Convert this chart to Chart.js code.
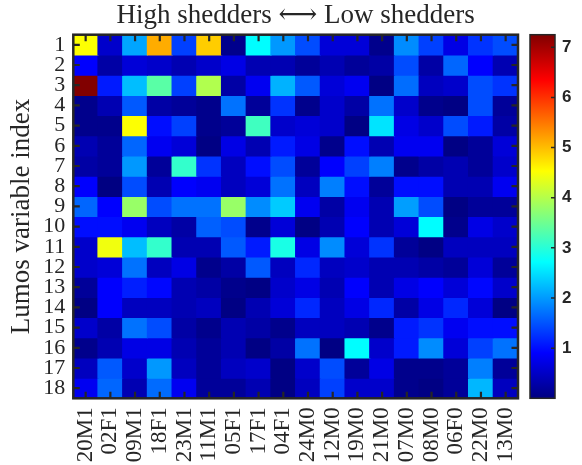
<!DOCTYPE html>
<html>
<head>
<meta charset="utf-8">
<script src="https://cdn.jsdelivr.net/npm/chart.js@4.4.1/dist/chart.umd.min.js"></script>
<style>
  html, body { margin: 0; padding: 0; background: #fff; }
  #wrap { position: relative; width: 582px; height: 465px; }
  #heat { position: absolute; left: 0; top: 0; }
  #cbar { position: absolute; left: 520px; top: 0; }
</style>
</head>
<body>
<div id="wrap">
  <canvas id="heat" width="582" height="465"></canvas>
  <canvas id="cbar" width="62" height="465"></canvas>
</div>
<script>
// Subjects, ordered from high to low shedders
const subjects = ['20M1','02F1','09M1','18F1','23M1','11M1','05F1','17F1','04F1',
                  '24M0','12M0','19M0','21M0','07M0','08M0','06F0','22M0','13M0'];

// Lumos variable indices (rows)
const variableIndex = [1,2,3,4,5,6,7,8,9,10,11,12,13,14,15,16,17,18];

// Values per variable index, one entry per subject
const row1  = [4.52,0.54,2.08,5.12,1.36,4.89,0.09,2.71,1.99,1.45,0.63,0.63,0.09,1.90,1.36,0.72,1.27,1.45];
const row2  = [0.90,0.27,0.63,0.54,0.36,0.54,0.72,0.36,0.36,0.18,0.36,0.18,0.27,1.45,0.27,1.63,0.90,0.36];
const row3  = [7.24,1.09,2.26,3.35,1.36,3.98,0.27,0.81,2.17,1.54,0.63,0.81,0.03,1.68,0.45,0.54,1.45,1.27];
const row4  = [0.09,0.36,1.54,0.27,0.18,0.09,1.72,0.18,1.27,0.09,0.54,0.27,1.72,0.54,0.09,0.03,1.45,0.18];
const row5  = [0.09,0.09,4.52,1.00,1.36,0.09,0.18,3.17,0.54,0.63,0.54,0.03,2.53,0.72,0.54,1.45,1.09,0.27];
const row6  = [0.36,0.18,1.63,0.81,0.63,0.03,0.72,0.36,1.09,0.72,0.09,1.00,0.36,0.81,0.81,0.03,0.18,0.63];
const row7  = [0.27,0.18,1.99,0.18,3.08,1.27,0.45,1.00,1.45,0.18,0.90,1.36,1.81,0.09,0.27,0.36,0.18,0.54];
const row8  = [0.90,0.02,1.45,0.36,0.90,0.81,0.45,0.63,1.72,0.45,1.81,1.00,0.18,1.00,1.00,0.36,0.36,0.81];
const row9  = [1.63,0.90,3.80,1.45,1.72,1.72,3.80,1.90,2.35,0.81,0.27,0.81,0.36,2.03,1.45,0.03,0.18,0.18];
const row10 = [1.00,1.00,0.81,0.45,0.27,1.59,1.45,0.09,0.63,0.03,0.36,0.90,0.36,0.63,2.71,0.09,0.72,0.54];
const row11 = [0.54,4.43,2.26,3.08,0.36,0.36,1.54,1.09,2.90,0.72,1.90,0.63,1.27,0.18,0.03,0.45,0.45,0.45];
const row12 = [0.54,0.63,1.72,0.45,0.72,0.09,0.27,1.54,0.45,1.18,0.45,0.54,0.36,0.36,0.27,0.18,0.63,0.18];
const row13 = [0.18,0.90,1.12,0.95,0.36,0.27,0.09,0.03,0.54,0.72,0.36,0.90,0.36,0.72,0.90,0.63,0.95,0.54];
const row14 = [0.03,0.90,0.45,0.45,0.36,0.45,0.03,0.36,0.63,1.18,0.45,0.72,1.18,0.27,0.72,1.18,0.63,0.03];
const row15 = [0.54,0.27,1.72,1.45,0.27,0.09,0.36,0.27,0.09,0.45,0.45,0.36,0.09,1.09,1.27,0.81,1.00,1.00];
const row16 = [0.09,0.36,0.72,0.72,0.36,0.18,0.36,0.03,0.27,1.72,0.03,2.71,0.54,1.09,1.90,0.63,1.36,1.72];
const row17 = [0.45,1.54,0.54,1.99,0.45,0.18,0.45,0.54,0.03,0.54,1.45,0.18,0.72,0.09,0.09,0.18,1.81,0.18];
const row18 = [0.81,1.63,0.36,1.67,0.81,0.18,0.18,0.36,0.03,0.45,1.36,0.54,0.54,0.09,0.03,0.18,2.21,0.45];

const rows = [row1,row2,row3,row4,row5,row6,row7,row8,row9,row10,
              row11,row12,row13,row14,row15,row16,row17,row18];

// Colour scale limits and colorbar tick values
const colorMin = 0;
const colorMax = 7.25;
const colorbarTicks = [1,2,3,4,5,6,7];

const INK = '#262626';
const SERIF = "'Liberation Serif', 'DejaVu Serif', serif";

// Jet colormap
function jet(t) {
  t = Math.min(1, Math.max(0, t));
  const c = v => Math.round(255 * Math.min(1, Math.max(0, v)));
  const r = c(1.5 - Math.abs(4 * t - 3));
  const g = c(1.5 - Math.abs(4 * t - 2));
  const b = c(1.5 - Math.abs(4 * t - 1));
  return `rgb(${r},${g},${b})`;
}
const colorOf = v => jet((v - colorMin) / (colorMax - colorMin));

// One dataset per variable index: each cell is a floating bar spanning the row
const datasets = rows.map((vals, i) => {
  const r = variableIndex[i];
  return {
    label: String(r),
    data: vals.map(() => [r - 0.5, r + 0.5]),
    backgroundColor: vals.map(colorOf),
    borderWidth: 0,
    inflateAmount: 0.6,
    grouped: false,
    barPercentage: 1,
    categoryPercentage: 1
  };
});

// Box around the axes with inward tick marks
const frameTicks = {
  id: 'frameTicks',
  afterDatasetsDraw(chart) {
    const { ctx, chartArea: a, scales: { x, y } } = chart;
    const len = 6.5;
    ctx.save();
    ctx.strokeStyle = INK;
    ctx.lineWidth = 2.2;
    ctx.beginPath();
    x.ticks.forEach((t, i) => {
      const px = x.getPixelForTick(i);
      ctx.moveTo(px, a.top); ctx.lineTo(px, a.top + len);
      ctx.moveTo(px, a.bottom); ctx.lineTo(px, a.bottom - len);
    });
    y.ticks.forEach(t => {
      const py = y.getPixelForValue(t.value);
      ctx.moveTo(a.left, py); ctx.lineTo(a.left + len, py);
      ctx.moveTo(a.right, py); ctx.lineTo(a.right - len, py);
    });
    ctx.stroke();
    ctx.lineWidth = 2.5;
    ctx.strokeRect(a.left, a.top, a.right - a.left, a.bottom - a.top);
    ctx.restore();
  }
};

new Chart(document.getElementById('heat'), {
  type: 'bar',
  data: { labels: subjects, datasets },
  options: {
    responsive: false,
    animation: false,
    layout: { padding: { left: 0, right: 64, top: 0, bottom: 0 } },
    plugins: {
      legend: { display: false },
      tooltip: { enabled: false },
      title: {
        display: true,
        fullSize: false,
        text: 'High shedders \u27F7 Low shedders',
        color: INK,
        font: { family: SERIF, size: 27, weight: 'normal', lineHeight: 1.0 },
        padding: { top: 2, bottom: 5.7 }
      }
    },
    scales: {
      x: {
        type: 'category',
        offset: true,
        grid: { display: false, drawTicks: false },
        border: { display: false },
        ticks: {
          autoSkip: false,
          maxRotation: 90,
          minRotation: 90,
          padding: 9,
          color: INK,
          font: { family: SERIF, size: 23 }
        },
        afterFit(s) { s.height = 66.7; }
      },
      y: {
        type: 'linear',
        reverse: true,
        min: 0.5,
        max: 18.5,
        afterBuildTicks(s) { s.ticks = variableIndex.map(v => ({ value: v })); },
        afterFit(s) { s.width = 73.3; },
        grid: { display: false, drawTicks: false },
        border: { display: false },
        ticks: {
          autoSkip: false,
          padding: 8,
          color: INK,
          font: { family: SERIF, size: 22 },
          callback: v => String(v)
        },
        title: {
          display: true,
          text: 'Lumos variable index',
          color: INK,
          font: { family: SERIF, size: 27, lineHeight: 1.2 },
          padding: { top: 6, bottom: 0 }
        }
      }
    }
  },
  plugins: [frameTicks]
});

// Colorbar: a single floating bar filled with the colormap gradient
const cbarFrame = {
  id: 'cbarFrame',
  afterDatasetsDraw(chart) {
    const { ctx, chartArea: a, scales: { y } } = chart;
    ctx.save();
    ctx.strokeStyle = INK;
    ctx.lineWidth = 1.5;
    ctx.beginPath();
    y.ticks.forEach(t => {
      const py = y.getPixelForValue(t.value);
      ctx.moveTo(a.right, py); ctx.lineTo(a.right - 4, py);
    });
    ctx.stroke();
    ctx.lineWidth = 1.5;
    ctx.strokeRect(a.left, a.top, a.right - a.left, a.bottom - a.top);
    ctx.restore();
  }
};

const stops = [0, 1/8, 3/8, 5/8, 7/8, 1];

new Chart(document.getElementById('cbar'), {
  type: 'bar',
  data: {
    labels: [''],
    datasets: [{
      data: [[colorMin, colorMax]],
      backgroundColor(context) {
        const c = context.chart;
        const ys = c.scales.y;
        if (!ys || !c.chartArea) return 'rgba(0,0,0,0)';
        const g = c.ctx.createLinearGradient(0, ys.getPixelForValue(colorMin), 0, ys.getPixelForValue(colorMax));
        stops.forEach(s => g.addColorStop(s, jet(s)));
        return g;
      },
      borderWidth: 0,
      barPercentage: 1,
      categoryPercentage: 1
    }]
  },
  options: {
    responsive: false,
    animation: false,
    layout: { padding: { left: 10, right: 0, top: 34.7, bottom: 66.7 } },
    plugins: { legend: { display: false }, tooltip: { enabled: false } },
    scales: {
      x: { display: false },
      y: {
        position: 'right',
        min: colorMin,
        max: colorMax,
        afterBuildTicks(s) { s.ticks = colorbarTicks.map(v => ({ value: v })); },
        afterFit(s) { s.width = 27; },
        grid: { display: false, drawTicks: false },
        border: { display: false },
        ticks: {
          padding: 7,
          color: INK,
          font: { family: "'Liberation Sans', Arial, sans-serif", weight: 'bold', size: 17 }
        }
      }
    }
  },
  plugins: [cbarFrame]
});
</script>
</body>
</html>
